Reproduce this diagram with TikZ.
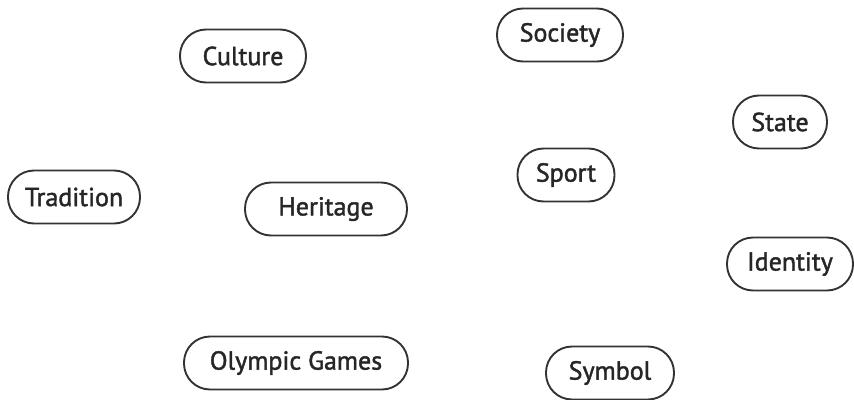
\documentclass[tikz,border=0pt]{standalone}
\usepackage{fontspec}
\setmainfont{PT Sans}
\newfontfamily\pillfont{PT Sans}[FakeBold=1.6]
\begin{document}
\begin{tikzpicture}[x=1pt,y=-1pt,
  pill/.style={draw=black!80, line width=1.9pt, rounded corners=26pt, minimum height=53pt, inner sep=0pt, text=black!85, font=\pillfont\fontsize{26}{28}\selectfont}]
\useasboundingbox (0,0) rectangle (854,399);
\node[pill, minimum width=126pt] (culture) at (243,56) {Culture};
\node[pill, minimum width=126pt] (society) at (560,35) {Society};
\node[pill, minimum width=94pt] (state) at (780,122) {State};
\node[pill, minimum width=132pt] (tradition) at (74,197) {Tradition};
\node[pill, minimum width=162pt] (heritage) at (326,209) {Heritage};
\node[pill, minimum width=97pt] (sport) at (566,175) {Sport};
\node[pill, minimum width=126pt] (identity) at (790,264) {Identity};
\node[pill, minimum width=224pt] (olympic) at (296,363) {Olympic Games};
\node[pill, minimum width=128pt] (symbol) at (610,373) {Symbol};
\end{tikzpicture}
\end{document}
